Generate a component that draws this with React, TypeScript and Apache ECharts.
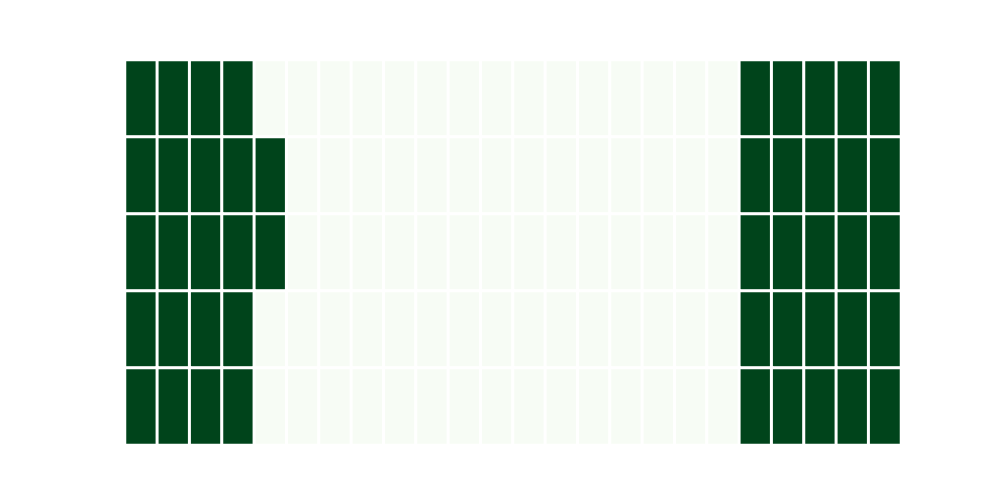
import React, { useEffect, useRef } from "react";
import * as echarts from "echarts";

const columns = Array.from({ length: 24 }, (_, i) => String(i));
const rows = ["0", "1", "2", "3", "4"];
const row0 = [1, 1, 1, 1, 0, 0, 0, 0, 0, 0, 0, 0, 0, 0, 0, 0, 0, 0, 0, 1, 1, 1, 1, 1];
const row1 = [1, 1, 1, 1, 1, 0, 0, 0, 0, 0, 0, 0, 0, 0, 0, 0, 0, 0, 0, 1, 1, 1, 1, 1];
const row2 = [1, 1, 1, 1, 1, 0, 0, 0, 0, 0, 0, 0, 0, 0, 0, 0, 0, 0, 0, 1, 1, 1, 1, 1];
const row3 = [1, 1, 1, 1, 0, 0, 0, 0, 0, 0, 0, 0, 0, 0, 0, 0, 0, 0, 0, 1, 1, 1, 1, 1];
const row4 = [1, 1, 1, 1, 0, 0, 0, 0, 0, 0, 0, 0, 0, 0, 0, 0, 0, 0, 0, 1, 1, 1, 1, 1];
const grid = [row0, row1, row2, row3, row4];

export default function App() {
  const ref = useRef<HTMLDivElement>(null);
  useEffect(() => {
    if (!ref.current) return;
    const chart = echarts.init(ref.current, null, { renderer: "svg" });
    const data: number[][] = [];
    grid.forEach((r, y) => r.forEach((v, x) => data.push([x, y, v])));
    chart.setOption({
      animation: false,
      grid: { left: 125, top: 60, width: 776, height: 385 },
      xAxis: { type: "category", data: columns, show: false },
      yAxis: { type: "category", data: rows, show: false, inverse: true },
      visualMap: {
        show: false,
        min: 0,
        max: 1,
        inRange: { color: ["#f7fcf5", "#00441b"] },
      },
      series: [
        {
          type: "heatmap",
          data,
          itemStyle: { borderColor: "#ffffff", borderWidth: 3 },
          emphasis: { disabled: true },
        },
      ],
    });
    return () => chart.dispose();
  }, []);
  return (
    <div
      ref={ref}
      style={{ position: "fixed", left: 0, top: 0, width: 1000, height: 500, background: "#fff" }}
    />
  );
}
